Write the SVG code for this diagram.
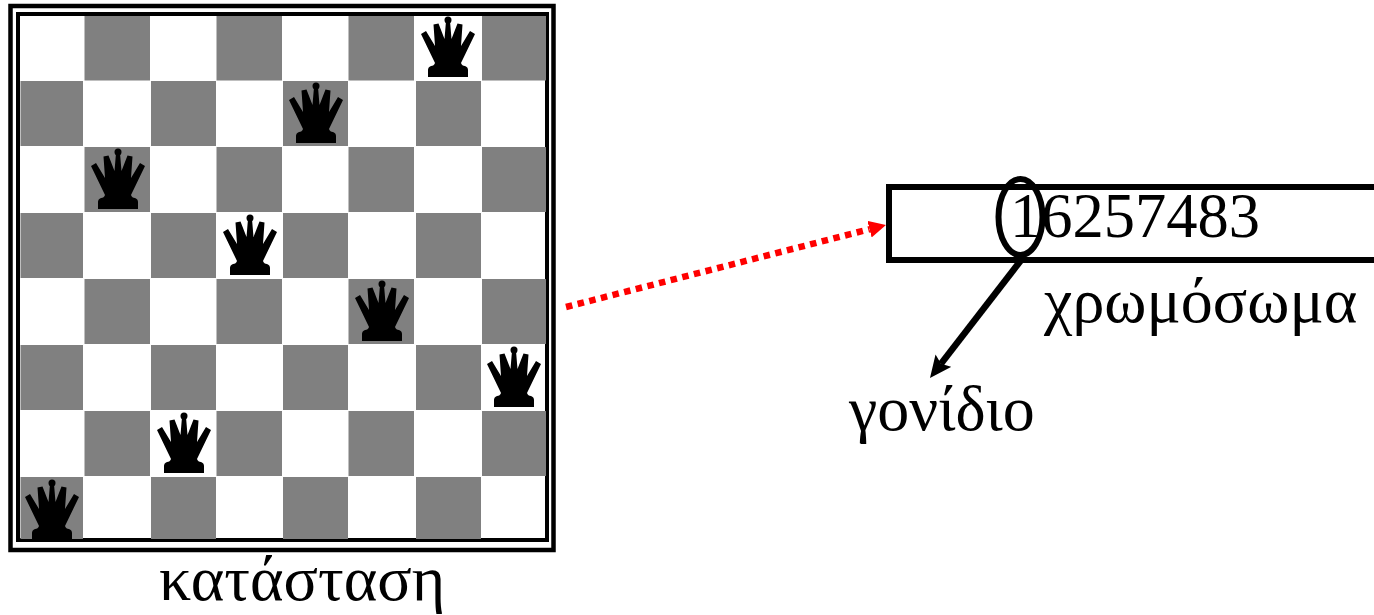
<svg xmlns="http://www.w3.org/2000/svg" width="1374" height="615" viewBox="0 0 1374 615">
<style>
.g{fill:#808080}
.t{font-family:"Liberation Serif","Times New Roman",serif;font-size:64px;fill:#000}
</style>
<defs>
<g id="q">
<circle cx="0" cy="3" r="3.500"/>
<path d="M-2 4H2L3.500 22L9.500 6.500L14.500 7.500L13 29L22 14L27 17L13 46Q14 49 17 49Q20 50 20 53V60H-20V53Q-20 50 -17 49Q-14 49 -13 46L-27 17L-22 14L-13 29L-14.500 7.500L-9.500 6.500L-3.500 22Z"/>
</g>
<marker id="ar" markerUnits="userSpaceOnUse" markerWidth="18" markerHeight="18" refX="0" refY="8.500" orient="auto"><path d="M0 0L17 8.500L0 17Z" fill="#f00"/></marker>
<marker id="ab" markerUnits="userSpaceOnUse" markerWidth="23" markerHeight="21" refX="4" refY="10" orient="auto"><path d="M0 0L22 10L0 20L4 10Z" fill="#000"/></marker>
</defs>
<g id="board">
<rect x="10.500" y="6" width="543" height="544" fill="#fff" stroke="#000" stroke-width="4.500"/>
<rect x="18" y="14" width="529" height="526" fill="#fff" stroke="#000" stroke-width="4"/>
<g id="squares">
<rect class="g" x="84.500" y="16" width="65.500" height="64.500"/><rect class="g" x="216.500" y="16" width="65.500" height="64.500"/><rect class="g" x="348.500" y="16" width="65.500" height="64.500"/><rect class="g" x="482" y="16" width="64" height="64.500"/>
<rect class="g" x="20.500" y="81" width="62.500" height="65"/><rect class="g" x="151" y="81" width="65" height="65"/><rect class="g" x="283" y="81" width="65" height="65"/><rect class="g" x="416" y="81" width="65" height="65"/>
<rect class="g" x="84.500" y="147" width="65.500" height="65"/><rect class="g" x="216.500" y="147" width="65.500" height="65"/><rect class="g" x="348.500" y="147" width="65.500" height="65"/><rect class="g" x="482" y="147" width="64" height="65"/>
<rect class="g" x="20.500" y="213" width="62.500" height="65"/><rect class="g" x="151" y="213" width="65" height="65"/><rect class="g" x="283" y="213" width="65" height="65"/><rect class="g" x="416" y="213" width="65" height="65"/>
<rect class="g" x="84.500" y="279" width="65.500" height="65"/><rect class="g" x="216.500" y="279" width="65.500" height="65"/><rect class="g" x="348.500" y="279" width="65.500" height="65"/><rect class="g" x="482" y="279" width="64" height="65"/>
<rect class="g" x="20.500" y="345" width="62.500" height="65"/><rect class="g" x="151" y="345" width="65" height="65"/><rect class="g" x="283" y="345" width="65" height="65"/><rect class="g" x="416" y="345" width="65" height="65"/>
<rect class="g" x="84.500" y="411" width="65.500" height="65"/><rect class="g" x="216.500" y="411" width="65.500" height="65"/><rect class="g" x="348.500" y="411" width="65.500" height="65"/><rect class="g" x="482" y="411" width="64" height="65"/>
<rect class="g" x="20.500" y="477" width="62.500" height="62"/><rect class="g" x="151" y="477" width="65" height="62"/><rect class="g" x="283" y="477" width="65" height="62"/><rect class="g" x="416" y="477" width="65" height="62"/>
</g>
<use href="#q" x="448" y="17"/><use href="#q" x="316" y="83"/><use href="#q" x="118" y="149"/><use href="#q" x="250" y="215"/><use href="#q" x="382" y="281"/><use href="#q" x="514" y="347"/><use href="#q" x="184" y="413"/><use href="#q" x="52" y="480"/>
</g>
<text id="state" class="t" x="159" y="600">κατάσταση</text>
<g id="connectors">
<path d="M566 307L869.500 229.200" fill="none" stroke="#f00" stroke-width="6.500" stroke-dasharray="6.500 5.500" marker-end="url(#ar)"/>
<path d="M1022 259L941 363.800" fill="none" stroke="#000" stroke-width="6.500" marker-end="url(#ab)"/>
</g>
<g id="chromosome">
<path d="M1374 187H889V260H1374" fill="#fff" stroke="#000" stroke-width="6"/>
<text class="t" style="font-size:62.500px" x="1010" y="237">16257483</text>
<ellipse cx="1020.500" cy="217" rx="22" ry="38" fill="none" stroke="#000" stroke-width="6"/>
</g>
<text id="chromosome-label" class="t" x="1044" y="322">χρωμόσωμα</text>
<text id="gene-label" class="t" x="849" y="430">γονίδιο</text>
</svg>
